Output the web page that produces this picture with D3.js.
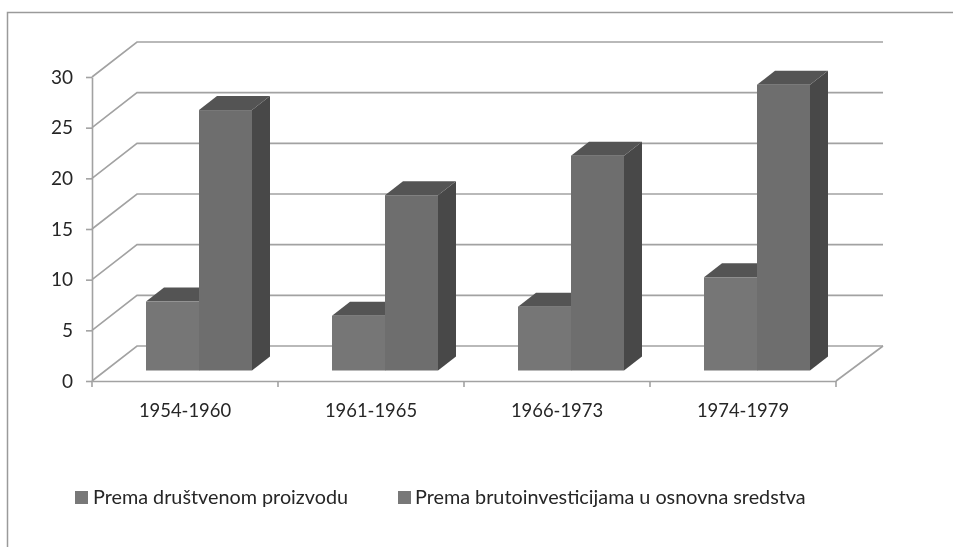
<!DOCTYPE html>
<html>
<head>
<meta charset="utf-8">
<title>Prema društvenom proizvodu</title>
<script src="https://d3js.org/d3.v7.min.js"></script>
<style>
html, body { margin: 0; padding: 0; background: #fff; }
svg { display: block; filter: blur(0.45px); }
text { font-family: Lato, "Open Sans", sans-serif; fill: #262626; }
.grid { fill: none; stroke: #a2a2a2; stroke-width: 1.6; }
.axis path, .axis line { stroke: #a2a2a2; stroke-width: 1.6; }
</style>
</head>
<body>
<div id="plot"></div>
<script>
var categories = ["1954-1960", "1961-1965", "1966-1973", "1974-1979"];
var seriesNames = ["Prema društvenom proizvodu", "Prema brutoinvesticijama u osnovna sredstva"];
var drustveni = [6.8, 5.4, 6.3, 9.2];
var bruto = [25.7, 17.3, 21.2, 28.2];
var yTicks = [0, 5, 10, 15, 20, 25, 30];

var width = 953;
var height = 547;

// wall depth and bar depth of the fake 3d box
var wallX = 45, wallY = -35;
var wallRight = 883;
var barOffX = 14, barOffY = -10.5;
var barDepthX = 18, barDepthY = -14;

var front = ["#767676", "#6e6e6e"];
var topColor = "#545454";
var sideColor = "#484848";

var svg = d3.select("#plot").append("svg")
  .attr("width", width).attr("height", height);

// outer frame, open on the right and bottom
svg.append("path")
  .attr("d", "M7.5," + height + "V12.5H" + width)
  .attr("fill", "none").attr("stroke", "#9a9a9a").attr("stroke-width", 1.5);

var xScale = d3.scaleBand().domain(categories).range([92, 836]);
var yScale = d3.scaleLinear().domain([0, 30]).range([381, 77]);
var seriesScale = d3.scaleBand().domain([0, 1]).range([0, 106]);

// grid lines run back along the side wall, then across the back wall
svg.append("g").selectAll("path").data(yTicks).enter().append("path")
  .attr("class", "grid")
  .attr("d", function (t) {
    var y = yScale(t);
    return "M92," + y + "L" + (92 + wallX) + "," + (y + wallY) + "H" + wallRight;
  });

// floor edge on the right
svg.append("line")
  .attr("class", "grid")
  .attr("x1", 836).attr("y1", yScale(0))
  .attr("x2", wallRight).attr("y2", yScale(0) + wallY);

var yAxis = d3.axisLeft(yScale).tickValues(yTicks).tickSize(6).tickPadding(13).tickSizeOuter(0);
svg.append("g")
  .attr("class", "axis")
  .attr("transform", "translate(92,0)")
  .call(yAxis)
  .selectAll("text").style("font-size", "19px");

var xAxis = d3.axisBottom(xScale).tickSize(0).tickPadding(23);
var xGroup = svg.append("g")
  .attr("class", "axis")
  .attr("transform", "translate(0," + yScale(0) + ")")
  .call(xAxis);
xGroup.selectAll("text").style("font-size", "18.4px");

// ticks sit between the categories, not on them
xGroup.selectAll("line.edge").data(d3.range(categories.length + 1)).enter().append("line")
  .attr("class", "edge")
  .attr("x1", function (i) { return 92 + i * xScale.step(); })
  .attr("x2", function (i) { return 92 + i * xScale.step(); })
  .attr("y1", 0).attr("y2", 6);

var bars = [];
categories.forEach(function (c, i) {
  bars.push({ cat: c, s: 0, value: drustveni[i] });
  bars.push({ cat: c, s: 1, value: bruto[i] });
});

var barGroup = svg.append("g");

bars.forEach(function (d) {
  var bw = seriesScale.bandwidth();
  var x0 = xScale(d.cat) + (xScale.bandwidth() - 106) / 2 + barOffX + seriesScale(d.s);
  var x1 = x0 + bw;
  var yBase = yScale(0) + barOffY;
  var yTop = yBase - (yScale(0) - yScale(d.value));

  barGroup.append("path")
    .attr("fill", sideColor)
    .attr("d", "M" + x1 + "," + yTop + "l" + barDepthX + "," + barDepthY +
      "V" + (yBase + barDepthY) + "L" + x1 + "," + yBase + "Z");
  barGroup.append("path")
    .attr("fill", topColor)
    .attr("d", "M" + x0 + "," + yTop + "l" + barDepthX + "," + barDepthY +
      "H" + (x1 + barDepthX) + "L" + x1 + "," + yTop + "Z");
  barGroup.append("rect")
    .attr("x", x0).attr("y", yTop)
    .attr("width", bw).attr("height", yBase - yTop)
    .attr("fill", front[d.s]);
});

// legend
var legendX = [75, 398];
var legend = svg.append("g").selectAll("g").data(seriesNames).enter().append("g")
  .attr("transform", function (d, i) { return "translate(" + legendX[i] + ",491)"; });
legend.append("rect")
  .attr("width", 13).attr("height", 13).attr("fill", "#787878");
legend.append("text")
  .attr("x", function (d, i) { return i ? 17 : 18; }).attr("y", 13)
  .style("font-size", "19.8px")
  .text(function (d) { return d; });
</script>
</body>
</html>
